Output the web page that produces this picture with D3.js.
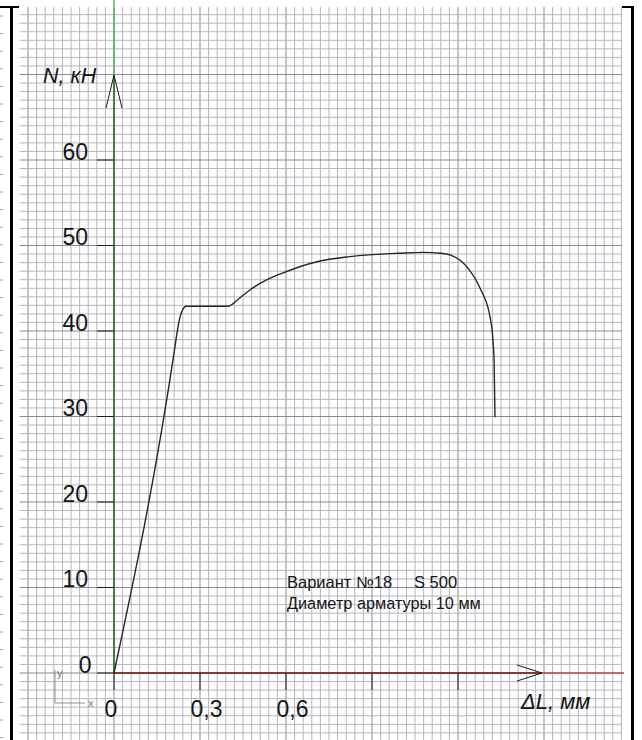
<!DOCTYPE html>
<html>
<head>
<meta charset="utf-8">
<script src="https://cdn.jsdelivr.net/npm/d3@7"></script>
<style>
  html, body { margin: 0; padding: 0; background: #fff; }
  svg { display: block; }
  text { font-family: "Liberation Sans", Arial, sans-serif; fill: #151515; }
</style>
</head>
<body>
<svg id="chart" width="642" height="740"></svg>
<script>
// Tensile test curve: elongation ΔL (mm) vs load N (kN)
const elongation = [0, 0.212, 0.220, 0.228, 0.238, 0.252, 0.270, 0.330, 0.400, 0.429, 0.474, 0.534, 0.590, 0.708, 0.823, 0.997, 1.080, 1.137, 1.172, 1.231, 1.277, 1.312, 1.322, 1.326, 1.329];
const load       = [0,   38.0,  39.8,  41.3,  42.4,  42.9,  42.9,  42.9,  42.9,  43.6,  44.8,  46.0,  46.8,  48.1,  48.7,  49.1,  49.2,  49.1,  48.9,  47.5,  45.0,  41.6,  38.9,  36.3,  29.9];

const yTickValues = [0, 10, 20, 30, 40, 50, 60];
const yTickLabels = ["0", "10", "20", "30", "40", "50", "60"];
const xTickValues = [0, 0.3, 0.6, 0.9, 1.2];
const xTickLabels = ["0", "0,3", "0,6", "", ""];

const yAxisTitle = "N, кН";
const xAxisTitle = "ΔL, мм";
const noteVariant = "Вариант №18";
const noteSteel = "S 500";
const noteDiameter = "Диаметр арматуры 10 мм";

const W = 642, H = 740;
const svg = d3.select("#chart");

// scales: 0.3 mm per major square, 10 kN per major square
const x = d3.scaleLinear().domain([0, 0.3]).range([114, 200]);
const y = d3.scaleLinear().domain([0, 60]).range([673, 160]);

// ---- graph paper ----
const gridLeft = 19.5, gridRight = 622, gridTop = 7, gridBottom = H;
const grid = svg.append("g");
const xCell = 0.03, yCell = 1;
const kx0 = Math.ceil(x.invert(gridLeft) / xCell - 1e-6), kx1 = Math.floor(x.invert(gridRight) / xCell + 1e-6);
d3.range(kx0, kx1 + 1).forEach(k => {
  const px = x(k * xCell);
  const major = k % 10 === 0;
  grid.append("line")
    .attr("x1", px).attr("x2", px).attr("y1", gridTop).attr("y2", gridBottom)
    .attr("stroke", major ? "#878b93" : "#b3b7bf").attr("stroke-width", 1);
});
const ky0 = Math.ceil(y.invert(gridBottom) / yCell), ky1 = Math.floor(y.invert(gridTop) / yCell + 1e-6);
d3.range(ky0, ky1 + 1).forEach(k => {
  const py = y(k * yCell);
  const major = k % 10 === 0;
  grid.append("line")
    .attr("x1", gridLeft).attr("x2", gridRight).attr("y1", py).attr("y2", py)
    .attr("stroke", major ? "#878b93" : "#b3b7bf").attr("stroke-width", 1);
});

// ---- sheet frame ----
const frame = svg.append("g").attr("stroke", "#000");
frame.append("line").attr("x1", 11.5).attr("x2", 11.5).attr("y1", 6).attr("y2", H).attr("stroke-width", 3);
frame.append("line").attr("x1", 0).attr("x2", 19).attr("y1", 7).attr("y2", 7).attr("stroke-width", 2);
frame.append("line").attr("x1", 632.5).attr("x2", 632.5).attr("y1", 6).attr("y2", H).attr("stroke-width", 3);
frame.append("line").attr("x1", 622).attr("x2", 634).attr("y1", 7).attr("y2", 7).attr("stroke-width", 2);
// margin ruler marks
d3.range(16, H, 17.6).forEach(py => {
  svg.append("line").attr("x1", 0).attr("x2", 3).attr("y1", py).attr("y2", py)
    .attr("stroke", "#9a9ea6").attr("stroke-width", 1);
});

// ---- axes ----
const x0 = x(0), y0 = y(0);
const yTip = 75, xTip = 542;
// Y axis (green) with dark overlay up to the arrow tip
svg.append("line").attr("x1", x0).attr("x2", x0).attr("y1", 0).attr("y2", y0)
  .attr("stroke", "#45a84a").attr("stroke-width", 1.3);
svg.append("line").attr("x1", x0).attr("x2", x0).attr("y1", yTip).attr("y2", y0)
  .attr("stroke", "#2d5f2f").attr("stroke-width", 1.3);
// X axis (red) with dark overlay up to the arrow tip
svg.append("line").attr("x1", x0).attr("x2", 624).attr("y1", y0).attr("y2", y0)
  .attr("stroke", "#c04848").attr("stroke-width", 1.3);
svg.append("line").attr("x1", x0).attr("x2", xTip).attr("y1", y0).attr("y2", y0)
  .attr("stroke", "#6e2a2a").attr("stroke-width", 1.3);

// arrow heads
svg.append("path")
  .attr("d", `M${x0 - 8},${yTip + 33} L${x0},${yTip} L${x0 + 8},${yTip + 33}`)
  .attr("fill", "none").attr("stroke", "#1a1a1a").attr("stroke-width", 1);
svg.append("path")
  .attr("d", `M${xTip - 25},${y0 - 8} L${xTip},${y0} L${xTip - 25},${y0 + 8}`)
  .attr("fill", "none").attr("stroke", "#1a1a1a").attr("stroke-width", 1);

// Y ticks and labels (labels sit on the tick line)
yTickValues.forEach((v, i) => {
  const py = y(v);
  svg.append("line").attr("x1", x0 - 17).attr("x2", x0).attr("y1", py).attr("y2", py)
    .attr("stroke", "#1a1a1a").attr("stroke-width", 1);
  svg.append("text")
    .attr("x", v === 0 ? 91.5 : 88).attr("y", py - 0.5)
    .attr("text-anchor", "end").attr("font-size", 23)
    .text(yTickLabels[i]);
});

// X ticks and labels
xTickValues.forEach((v, i) => {
  const px = x(v);
  svg.append("line").attr("x1", px).attr("x2", px).attr("y1", y0).attr("y2", y0 + 17)
    .attr("stroke", "#1a1a1a").attr("stroke-width", 1);
  if (xTickLabels[i]) {
    svg.append("text")
      .attr("x", px - 9.5).attr("y", 717)
      .attr("font-size", 23)
      .text(xTickLabels[i]);
  }
});

// axis titles
svg.append("text").attr("x", 43).attr("y", 83)
  .attr("font-size", 21.5).attr("font-style", "italic").text(yAxisTitle);
svg.append("text").attr("x", 521).attr("y", 708.5)
  .attr("font-size", 22).attr("font-style", "italic").text(xAxisTitle);

// small coordinate-system icon
const ucs = svg.append("g");
ucs.append("path").attr("d", "M55,670 L55,703 L85,703")
  .attr("fill", "none").attr("stroke", "#8f8f8f").attr("stroke-width", 1);
ucs.append("text").attr("x", 57).attr("y", 677).attr("font-size", 11).style("fill", "#7a7a7a").text("y");
ucs.append("text").attr("x", 88).attr("y", 707).attr("font-size", 11).style("fill", "#7a7a7a").text("x");

// ---- load-elongation curve ----
const pts = elongation.map((d, i) => [d, load[i]]);
const line = d3.line()
  .x(d => x(d[0]))
  .y(d => y(d[1]))
  .curve(d3.curveMonotoneX);
svg.append("path")
  .datum(pts)
  .attr("d", line)
  .attr("fill", "none")
  .attr("stroke", "#262626")
  .attr("stroke-width", 1.4);

// ---- note ----
const note1 = svg.append("text").attr("x", 287).attr("y", 588).attr("font-size", 16.5);
note1.append("tspan").text(noteVariant);
note1.append("tspan").attr("x", 414).text(noteSteel);
svg.append("text").attr("x", 287).attr("y", 609)
  .attr("font-size", 16.3).text(noteDiameter);
</script>
</body>
</html>
